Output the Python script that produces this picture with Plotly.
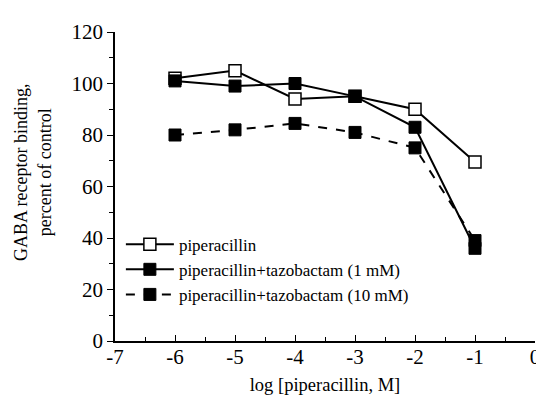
import plotly.graph_objects as go

log_conc = [-6, -5, -4, -3, -2, -1]
pip = [102, 105, 94, 95, 90, 69.5]
pip_tazo1 = [101, 99, 100, 95, 83, 36]
pip_tazo10 = [80, 82, 84.5, 81, 75, 39]
names = ["piperacillin", "piperacillin+tazobactam (1 mM)", "piperacillin+tazobactam (10 mM)"]
x_tickvals = [-7, -6, -5, -4, -3, -2, -1, 0]
x_ticktext = ["-7", "-6", "-5", "-4", "-3", "-2", "-1", "0"]

font = "Liberation Serif"
fig = go.Figure()
fig.add_trace(go.Scatter(x=log_conc, y=pip, name=names[0], mode="lines+markers",
                         line=dict(color="black", width=2),
                         marker=dict(symbol="square", size=12, color="white",
                                     line=dict(color="black", width=1.5))))
fig.add_trace(go.Scatter(x=log_conc, y=pip_tazo1, name=names[1], mode="lines+markers",
                         line=dict(color="black", width=2),
                         marker=dict(symbol="square", size=12, color="black",
                                     line=dict(color="black", width=1))))
fig.add_trace(go.Scatter(x=log_conc, y=pip_tazo10, name=names[2], mode="lines+markers",
                         line=dict(color="black", width=2, dash="dash"),
                         marker=dict(symbol="square", size=12, color="black",
                                     line=dict(color="black", width=1))))

fig.update_layout(
    width=544, height=399,
    margin=dict(l=107, r=13, t=16, b=66),
    paper_bgcolor="white", plot_bgcolor="white",
    font=dict(family=font, color="black", size=18),
    showlegend=True,
    legend=dict(x=0.014, y=0.37, xanchor="left", yanchor="top",
                font=dict(size=17, family=font), bgcolor="rgba(0,0,0,0)",
                tracegroupgap=0, itemwidth=48),
    xaxis=dict(range=[-7, 0], tickvals=x_tickvals, ticktext=x_ticktext,
               showgrid=False, zeroline=False,
               showline=True, linecolor="black", linewidth=1.5,
               ticks="inside", ticklen=6, tickwidth=1.2, tickcolor="black",
               tickfont=dict(size=21, family=font), ticklabelstandoff=-4,
               minor=dict(dtick=0.5, ticks="inside", ticklen=4, tickcolor="black", tickwidth=1),
               title=dict(text="log [piperacillin, M]", font=dict(size=18.5, family=font), standoff=10)),
    yaxis=dict(range=[0, 120], dtick=20, showgrid=False, zeroline=False,
               showline=True, linecolor="black", linewidth=1.5,
               ticks="outside", ticklen=6, tickwidth=1.2, tickcolor="black",
               tickfont=dict(size=21, family=font),
               minor=dict(dtick=10, ticks="outside", ticklen=4, tickcolor="black", tickwidth=1)),
)
fig.add_annotation(text="GABA receptor binding,<br>percent of control", xref="paper", yref="paper",
                   x=-0.196, y=0.546, textangle=-90, showarrow=False, xanchor="center", yanchor="middle",
                   font=dict(size=18, family=font))
fig.write_html("out.html")
